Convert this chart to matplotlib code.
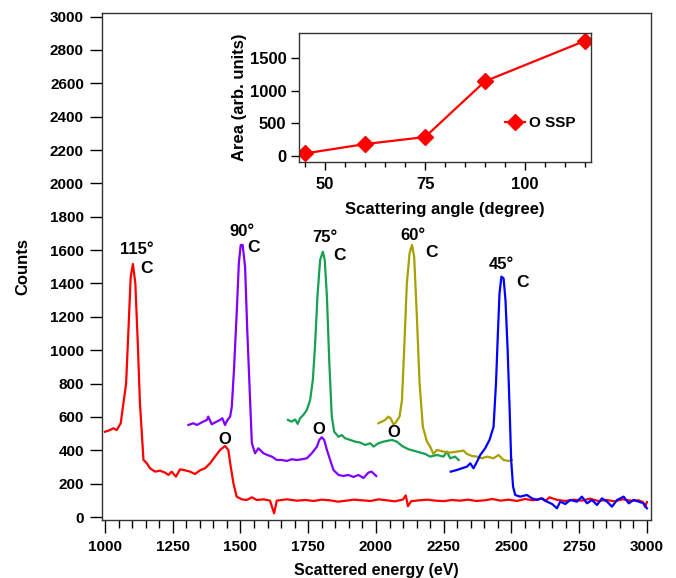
import matplotlib
matplotlib.use("Agg")
import matplotlib.pyplot as plt
from matplotlib.ticker import MultipleLocator

plt.rcParams['font.family'] = ['Liberation Sans', 'DejaVu Sans']
plt.rcParams['font.weight'] = 'bold'

# ---------------- data ----------------
red_E = [1000,1018,1031,1043,1058,1068,1078,1086,1095,1103,1112,1121,1129,1142,1154,1166,1185,1203,1222,1234,
         1246,1262,1277,1295,1314,1332,1351,1369,1388,1406,1425,1443,1455,1464,1474,1486,1505,1523,1542,1560,
         1585,1609,1624,1634,1671,1708,1740,1770,1800,1830,1860,1890,1920,1950,1980,2010,2040,2070,2100,2110,
         2118,2130,2160,2190,2220,2250,2280,2310,2340,2370,2400,2430,2460,2490,2520,2550,2580,2610,2625,2640,
         2670,2700,2730,2760,2790,2820,2850,2880,2910,2940,2970,2985,2993,3000]
red_C = [511,521,532,521,562,682,802,1101,1441,1517,1401,1043,683,342,323,292,272,278,266,252,
         272,242,286,280,272,258,280,292,322,362,402,426,402,302,202,122,106,102,118,102,
         106,98,22,98,106,98,102,96,104,100,92,98,104,100,96,106,100,94,105,130,
         65,95,100,104,98,95,102,98,104,96,100,108,98,104,96,108,100,112,95,118,
         102,96,104,98,110,96,102,94,106,98,100,90,60,90]

purple_E = [1308,1326,1339,1351,1363,1376,1381,1394,1412,1425,1433,1443,1452,1462,1468,1476,1486,1494,1501,1508,
            1517,1525,1535,1542,1554,1566,1585,1599,1616,1634,1652,1671,1689,1708,1726,1745,1763,1782,1791,1800,
            1809,1819,1831,1843,1862,1880,1898,1917,1935,1954,1972,1984,2001]
purple_C = [552,562,552,562,572,582,602,556,572,582,592,552,582,602,662,881,1221,1521,1631,1631,
            1501,1121,721,442,382,412,382,372,362,342,342,336,346,342,346,352,382,421,462,478,
            462,402,342,282,252,246,252,240,252,234,266,272,246]

green_E = [1675,1689,1702,1711,1720,1732,1745,1757,1767,1775,1784,1794,1804,1811,1819,1828,1837,1846,1862,1874,
           1886,1905,1923,1942,1960,1979,1991,2009,2028,2059,2077,2096,2120,2151,2182,2200,2225,2249,2262,2274,
           2292,2305]
green_C = [582,572,585,558,592,612,642,701,821,1021,1321,1541,1591,1541,1321,921,601,511,481,491,
           472,462,452,446,432,442,422,442,452,462,452,426,406,392,378,362,372,362,392,352,
           362,342]

olive_E = [2009,2022,2034,2046,2056,2065,2075,2087,2096,2104,2114,2124,2133,2141,2151,2161,2173,2188,2200,2212,
           2225,2249,2274,2299,2323,2336,2354,2373,2391,2410,2434,2452,2471,2489,2502]
olive_C = [562,572,582,602,587,552,572,602,701,1001,1401,1581,1631,1561,1201,802,541,452,422,378,
           402,392,386,392,398,378,366,362,352,362,352,372,342,336,342]

blue_E = [2276,2299,2317,2336,2348,2360,2373,2385,2403,2419,2434,2443,2450,2456,2463,2471,2478,2486,2493,2499,
          2506,2514,2532,2557,2576,2594,2613,2631,2650,2668,2680,2699,2717,2742,2760,2779,2797,2816,2834,2853,
          2871,2890,2914,2933,2951,2970,2988,3000]
blue_C = [272,282,292,302,322,292,332,372,412,462,541,802,1101,1341,1441,1431,1301,1001,662,342,
          182,132,122,132,112,102,112,92,78,52,92,78,102,92,122,82,102,72,112,92,
          62,102,122,82,102,92,82,52]

angle_labels = ["115°", "90°", "75°", "60°", "45°"]
angle_pos = [(1117, 1601), (1505, 1710), (1812, 1675), (2138, 1687), (2462, 1511)]
c_pos = [(1154, 1491), (1548, 1615), (1865, 1565), (2206, 1585), (2542, 1405)]
o_pos = [(1443, 467), (1788, 522), (2065, 508)]

inset_angle = [45, 60, 75, 90, 115]
inset_area = [41, 184, 291, 1143, 1761]

# ---------------- figure ----------------
fig = plt.figure(figsize=(6.76, 5.78), dpi=100)
ax = fig.add_axes([0.1509, 0.1012, 0.963 - 0.1509, 0.977 - 0.1012])

lw = 1.6
ax.plot(red_E, red_C, color='#ff0000', lw=lw)
ax.plot(purple_E, purple_C, color='#7f00ff', lw=lw)
ax.plot(green_E, green_C, color='#17a050', lw=lw)
ax.plot(olive_E, olive_C, color='#a8a000', lw=lw)
ax.plot(blue_E, blue_C, color='#0000ff', lw=lw)

ax.set_xlim(989, 3015)
ax.set_ylim(-15, 3020)
ax.xaxis.set_major_locator(MultipleLocator(250))
ax.xaxis.set_minor_locator(MultipleLocator(50))
ax.yaxis.set_major_locator(MultipleLocator(200))
ax.tick_params(axis='both', which='major', direction='out', length=9, width=1, labelsize=11, pad=4)
ax.tick_params(axis='x', which='major', pad=6)
ax.tick_params(axis='x', which='minor', direction='out', length=6, width=1)
for s in ax.spines.values():
    s.set_linewidth(1.0)
    s.set_color('#333333')
ax.set_xlabel('Scattered energy (eV)', fontsize=11.5, fontweight='bold', labelpad=6)
ax.set_ylabel('Counts', fontsize=12, fontweight='bold', labelpad=14)

for lab, (x, y) in zip(angle_labels, angle_pos):
    ax.text(x, y, lab, ha='center', va='center', fontsize=12, fontweight='bold')
for (x, y) in c_pos:
    ax.text(x, y, 'C', ha='center', va='center', fontsize=12.5, fontweight='heavy')
for (x, y) in o_pos:
    ax.text(x, y, 'O', ha='center', va='center', fontsize=12, fontweight='bold')

# ---------------- inset ----------------
ins = fig.add_axes([0.4423, 0.7197, 0.8743 - 0.4423, 0.9429 - 0.7197])
ins.plot(inset_angle, inset_area, color='#ff0000', lw=1.6, marker='D', ms=8,
         mfc='#ff0000', mec='#ff0000', label='O SSP')
ins.set_xlim(43.5, 116.5)
ins.set_ylim(-90, 1880)
ins.xaxis.set_major_locator(MultipleLocator(25))
ins.xaxis.set_minor_locator(MultipleLocator(5))
ins.yaxis.set_major_locator(MultipleLocator(500))
ins.tick_params(axis='both', which='major', direction='out', length=6, width=1, labelsize=12, pad=3)
ins.tick_params(axis='x', which='major', pad=5)
ins.tick_params(axis='x', which='minor', direction='out', length=3.5, width=1)
for s in ins.spines.values():
    s.set_linewidth(1.0)
    s.set_color('#333333')
ins.set_xlabel('Scattering angle (degree)', fontsize=12, fontweight='bold', labelpad=7)
ins.set_ylabel('Area (arb. units)', fontsize=12, fontweight='bold', labelpad=2)
leg = ins.legend(loc='center right', bbox_to_anchor=(0.995, 0.30), frameon=False,
                 handlelength=1.3, handletextpad=0.3,
                 prop={'weight': 'bold', 'size': 11})

fig.savefig('out.png', dpi=100)
